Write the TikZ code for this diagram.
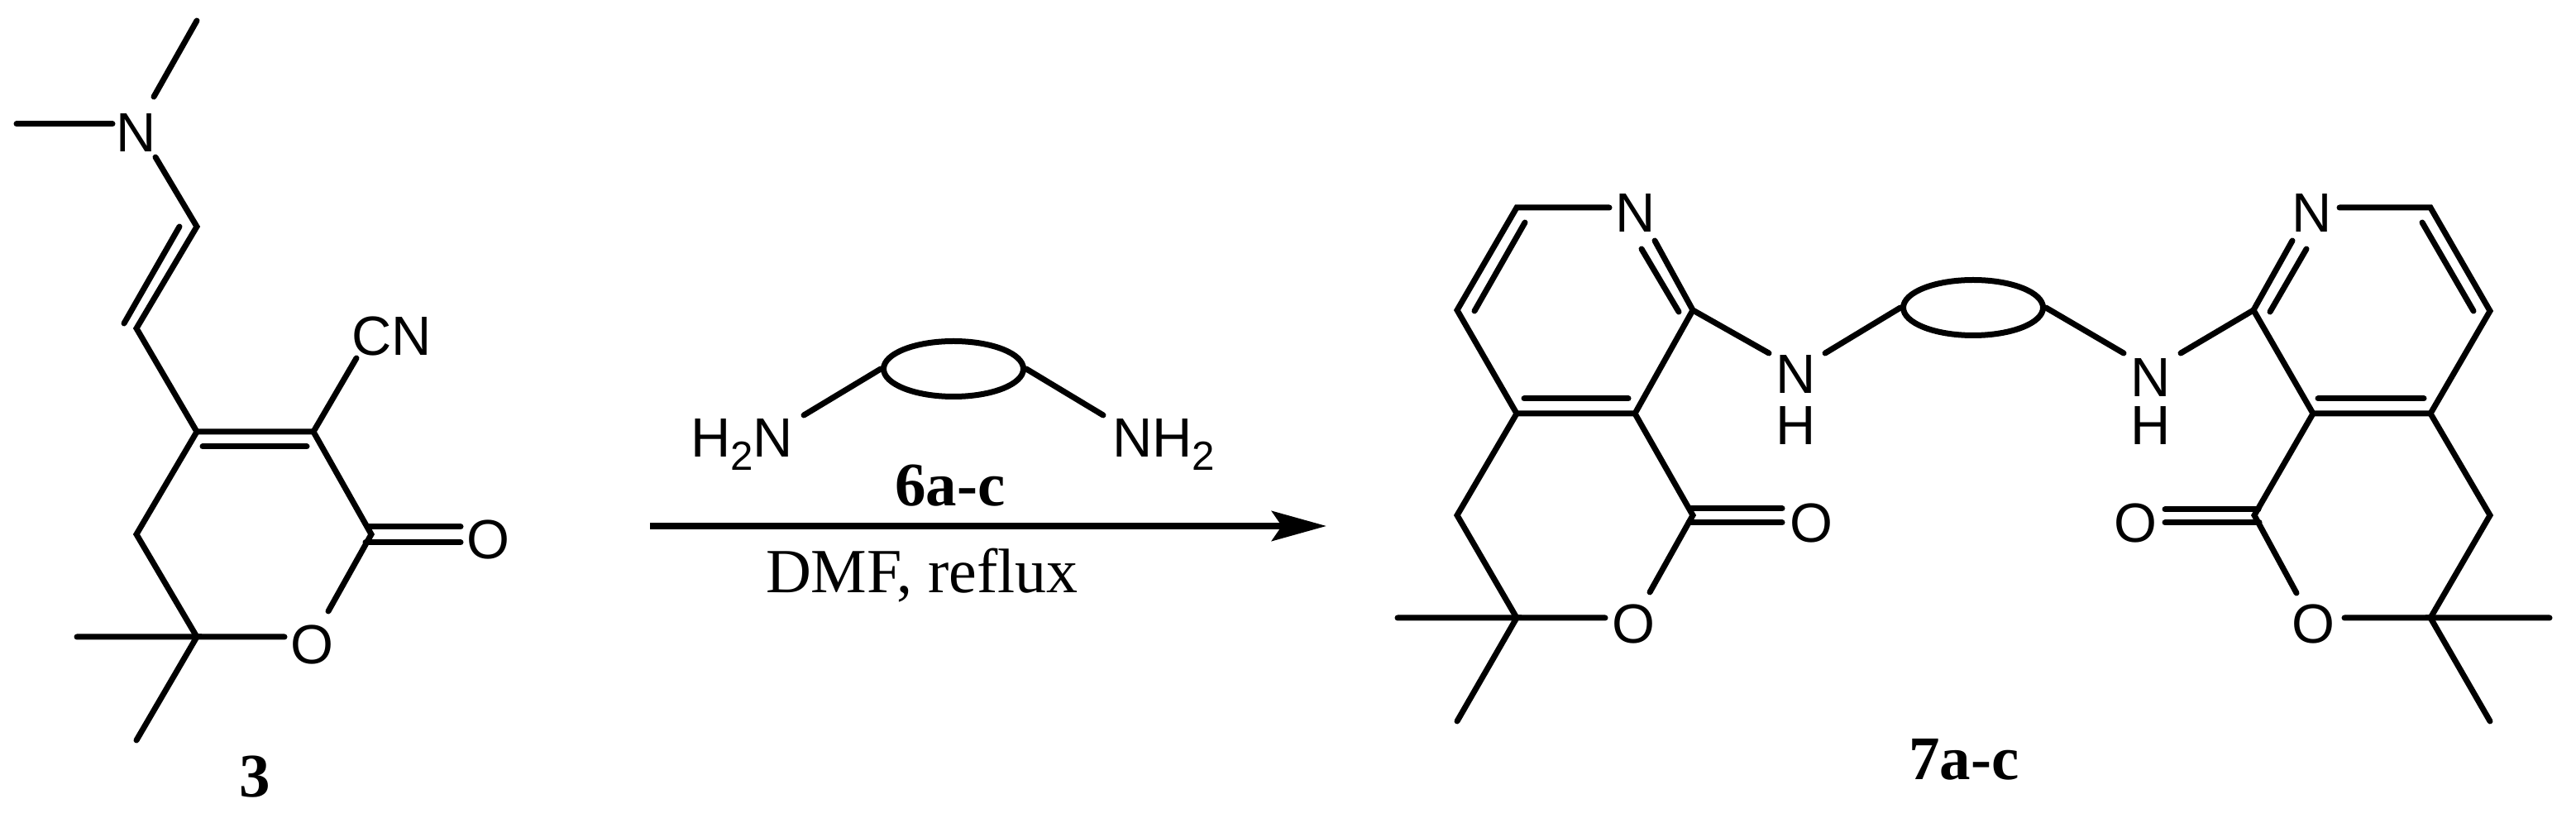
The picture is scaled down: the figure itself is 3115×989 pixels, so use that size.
\documentclass[tikz,border=0pt]{standalone}
\usepackage{fontspec}
\setmainfont{Liberation Serif}
\setsansfont{Liberation Sans}
\usetikzlibrary{arrows.meta,shapes.geometric}

\tikzset{
	bond/.style={line width=7*0.01cm, line cap=round, black},
	atom/.style={inner sep=0pt, font=\sffamily\fontsize{19}{19}\selectfont},
	amine/.style={atom, anchor=base},
	tag/.style={inner sep=0pt, anchor=base, font=\bfseries\fontsize{21.3}{21.3}\selectfont},
	cond/.style={inner sep=0pt, anchor=base, font=\fontsize{21.6}{21.6}\selectfont},
	linker/.style={ellipse, draw, inner sep=0pt, line width=7*0.01cm, minimum width=169*0.01cm, minimum height=67*0.01cm},
}
\newcommand{\subtwo}{\raisebox{-4.3pt}{\fontsize{14}{14}\selectfont 2}}

\begin{document}
\begin{tikzpicture}[x=0.01cm, y=-0.01cm]
	\useasboundingbox (0, 0) rectangle (3115, 989);

	% enamine lactone 3
	\node[atom] (na) at (165, 161) {N};
	\node[atom] (cn) at (474, 407) {CN};
	\node[atom] (oxoa) at (590, 653) {O};
	\node[atom] (oa) at (377, 780) {O};
	\node[tag] (three) at (308, 964) {3};

	\coordinate (mea) at (238, 25);
	\coordinate (meaend) at (186, 117);
	\coordinate (meb) at (20, 150);
	\coordinate (mebend) at (136, 150);
	\coordinate (chstart) at (188, 190);
	\coordinate (cha) at (238, 274);
	\coordinate (chb) at (165, 397);
	\coordinate (chai) at (217, 274);
	\coordinate (chbi) at (150, 391);
	\coordinate (cfour) at (238, 522);
	\coordinate (cthree) at (379, 522);
	\coordinate (cfouri) at (245, 540);
	\coordinate (cthreei) at (371, 540);
	\coordinate (cnend) at (431, 433);
	\coordinate (ctwo) at (449, 646);
	\coordinate (coa) at (444, 637);
	\coordinate (cob) at (442, 656);
	\coordinate (coaend) at (557, 637);
	\coordinate (cobend) at (557, 656);
	\coordinate (oaright) at (397, 739);
	\coordinate (oaleft) at (344, 770);
	\coordinate (csix) at (238, 770);
	\coordinate (cfive) at (165, 646);
	\coordinate (mec) at (93, 770);
	\coordinate (med) at (165, 895);

	\draw[bond] (mea) -- (meaend);
	\draw[bond] (meb) -- (mebend);
	\draw[bond] (chstart) -- (cha) -- (chb) -- (cfour) -- (cthree) -- (ctwo) -- (oaright);
	\draw[bond] (chai) -- (chbi);
	\draw[bond] (cfouri) -- (cthreei);
	\draw[bond] (cthree) -- (cnend);
	\draw[bond] (coa) -- (coaend);
	\draw[bond] (cob) -- (cobend);
	\draw[bond] (cfour) -- (cfive) -- (csix) -- (oaleft);
	\draw[bond] (mec) -- (csix) -- (med);

	% reagent and arrow
	\node[linker] (ringa) at (1153, 446) {};
	\node[amine] (hn) at (897, 553) {H\subtwo N};
	\node[amine] (nh) at (1407, 553) {NH\subtwo};
	\node[tag] (six) at (1149, 612) {6a-c};
	\node[cond] (dmf) at (1115, 717) {DMF, ref{}lux};
	\coordinate (hnend) at (972, 502);
	\coordinate (nhend) at (1334, 502);
	\coordinate (arrstart) at (786, 636);
	\coordinate (arrtip) at (1604, 636);

	\draw[bond] (ringa.west) -- (hnend);
	\draw[bond] (ringa.east) -- (nhend);
	\draw[line width=8*0.01cm, -{Stealth[length=66*0.01cm, width=36*0.01cm, inset=12*0.01cm]}] (arrstart) -- (arrtip);

	% product 7, left half
	\node[atom] (nl) at (1978, 258) {N};
	\node[atom] (nhl) at (2172, 453) {N};
	\node[atom] (hl) at (2172, 515) {H};
	\node[atom] (oxol) at (2190, 633) {O};
	\node[atom] (ol) at (1975, 755) {O};
	\node[tag] (seven) at (2375, 943) {7a-c};

	\coordinate (lca) at (1946, 251);
	\coordinate (lcb) at (1834, 251);
	\coordinate (lcc) at (1762, 375);
	\coordinate (lcd) at (1834, 500);
	\coordinate (lce) at (1977, 500);
	\coordinate (lcf) at (2047, 375);
	\coordinate (lcbi) at (1844, 269);
	\coordinate (lcci) at (1783, 376);
	\coordinate (lcdi) at (1843, 482);
	\coordinate (lcei) at (1969, 482);
	\coordinate (lnout) at (2001, 291);
	\coordinate (lnin) at (1985, 301);
	\coordinate (lcfi) at (2030, 377);
	\coordinate (lnha) at (2139, 427);
	\coordinate (lnhb) at (2207, 427);
	\coordinate (lcg) at (2047, 623);
	\coordinate (lcoa) at (2043, 615);
	\coordinate (lcob) at (2042, 632);
	\coordinate (lcoaend) at (2155, 615);
	\coordinate (lcobend) at (2155, 632);
	\coordinate (lor) at (1995, 716);
	\coordinate (lol) at (1941, 747);
	\coordinate (lch) at (1834, 747);
	\coordinate (lci) at (1762, 623);
	\coordinate (lmea) at (1690, 747);
	\coordinate (lmeb) at (1762, 872);

	\draw[bond] (lca) -- (lcb) -- (lcc) -- (lcd) -- (lce) -- (lcf) -- (lnout);
	\draw[bond] (lcbi) -- (lcci);
	\draw[bond] (lcdi) -- (lcei);
	\draw[bond] (lnin) -- (lcfi);
	\draw[bond] (lcf) -- (lnha);
	\draw[bond] (lce) -- (lcg) -- (lor);
	\draw[bond] (lcoa) -- (lcoaend);
	\draw[bond] (lcob) -- (lcobend);
	\draw[bond] (lcd) -- (lci) -- (lch) -- (lol);
	\draw[bond] (lmea) -- (lch) -- (lmeb);

	% linker of 7
	\node[linker] (ringb) at (2386, 372) {};
	\draw[bond] (lnhb) -- (ringb.west);

	% product 7, right half
	\node[atom] (nr) at (2796, 258) {N};
	\node[atom] (nhr) at (2601, 457) {N};
	\node[atom] (hr) at (2601, 515) {H};
	\node[atom] (oxor) at (2582, 633) {O};
	\node[atom] (or) at (2797, 755) {O};

	\coordinate (rca) at (2829, 251);
	\coordinate (rcb) at (2939, 251);
	\coordinate (rcc) at (3011, 376);
	\coordinate (rcd) at (2939, 500);
	\coordinate (rce) at (2797, 500);
	\coordinate (rcf) at (2725, 375);
	\coordinate (rcbi) at (2929, 269);
	\coordinate (rcci) at (2991, 376);
	\coordinate (rcdi) at (2931, 482);
	\coordinate (rcei) at (2803, 482);
	\coordinate (rnout) at (2772, 291);
	\coordinate (rnin) at (2789, 301);
	\coordinate (rcfi) at (2745, 377);
	\coordinate (rnha) at (2637, 427);
	\coordinate (rnhb) at (2568, 427);
	\coordinate (rcg) at (2726, 623);
	\coordinate (rcoa) at (2731, 616);
	\coordinate (rcob) at (2732, 632);
	\coordinate (rcoaend) at (2618, 616);
	\coordinate (rcobend) at (2618, 632);
	\coordinate (ror) at (2777, 717);
	\coordinate (rol) at (2835, 747);
	\coordinate (rch) at (2939, 747);
	\coordinate (rci) at (3011, 623);
	\coordinate (rmea) at (3083, 747);
	\coordinate (rmeb) at (3011, 872);

	\draw[bond] (rca) -- (rcb) -- (rcc) -- (rcd) -- (rce) -- (rcf) -- (rnout);
	\draw[bond] (rcbi) -- (rcci);
	\draw[bond] (rcdi) -- (rcei);
	\draw[bond] (rnin) -- (rcfi);
	\draw[bond] (rcf) -- (rnha);
	\draw[bond] (ringb.east) -- (rnhb);
	\draw[bond] (rce) -- (rcg) -- (ror);
	\draw[bond] (rcoa) -- (rcoaend);
	\draw[bond] (rcob) -- (rcobend);
	\draw[bond] (rcd) -- (rci) -- (rch) -- (rol);
	\draw[bond] (rmea) -- (rch) -- (rmeb);
\end{tikzpicture}
\end{document}
